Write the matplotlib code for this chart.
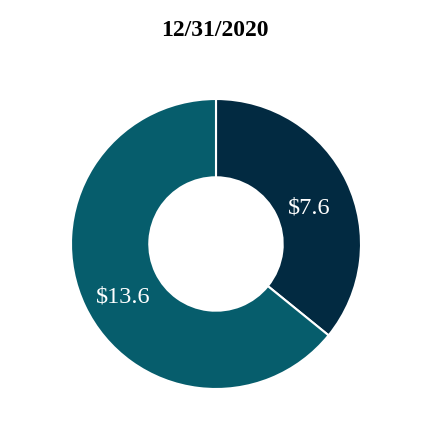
import matplotlib.pyplot as plt

# data
labels = ['Segment A', 'Segment B']
values = [7.6, 13.6]
colors = ['#022a41', '#065d6c']
title = '12/31/2020'

plt.rcParams['font.family'] = ['Liberation Serif', 'DejaVu Serif']

fig = plt.figure(figsize=(4.3, 4.3), dpi=100)
# axes placed so the ring sits where it does in the reference
ax = fig.add_axes([71/430, 41/430, 290/430, 290/430])

wedges, texts, autotexts = ax.pie(
    values, colors=colors, startangle=90, counterclock=False,
    radius=1.0, autopct=lambda p: '${:.1f}'.format(p * sum(values) / 100),
    pctdistance=0.71,
    wedgeprops=dict(width=0.54, edgecolor='white', linewidth=1.5))
for t in autotexts:
    t.set_color('white')
    t.set_fontsize(17.5)
    # labels sit a little lower in the reference
    x, y = t.get_position()
    t.set_position((x, y - 0.06))

ax.set_xlim(-1, 1)
ax.set_ylim(-1, 1)
ax.set_aspect('equal')
ax.axis('off')

fig.text(0.5, 1 - 31/430, title, ha='center', va='center',
         fontsize=17, fontweight='bold')

fig.savefig('out.png', dpi=100)
